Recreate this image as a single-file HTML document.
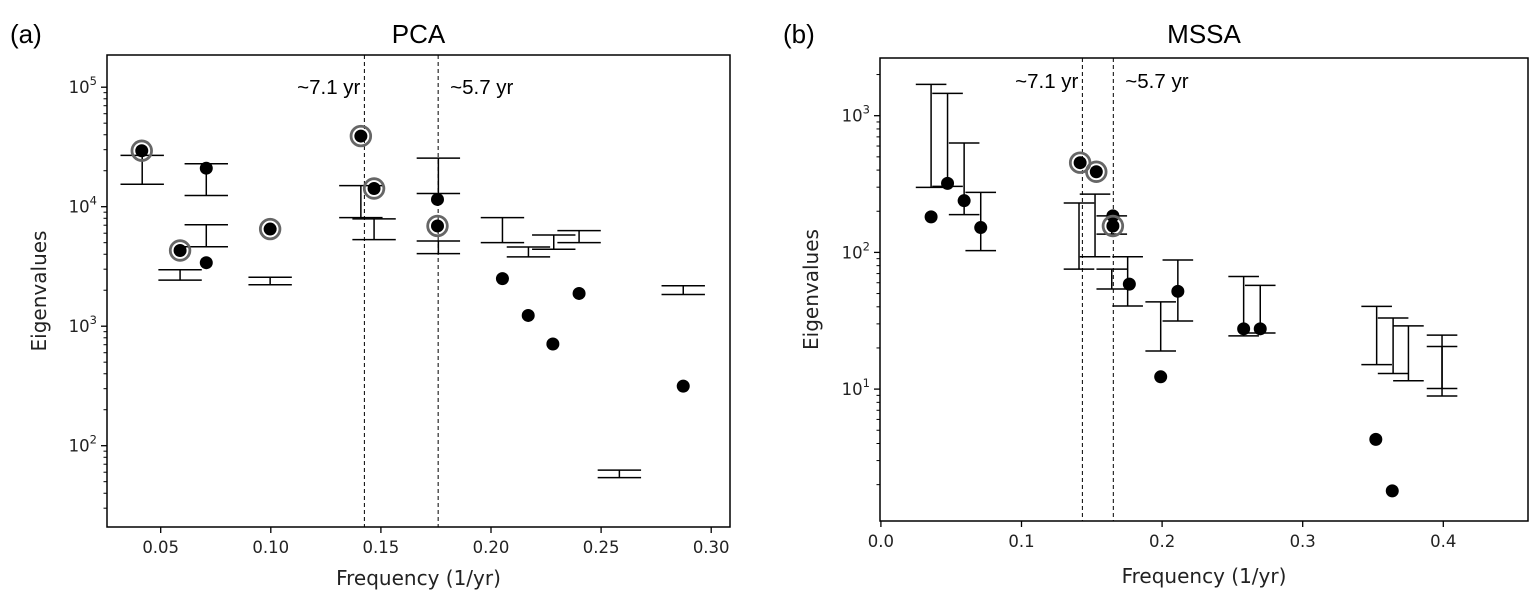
<!DOCTYPE html>
<html><head><meta charset="utf-8"><style>
html,body{margin:0;padding:0;background:#fff;}
svg{display:block;font-family:"DejaVu Sans","Liberation Sans",sans-serif;}
.tl{font-size:16.5px;fill:#222;}
.al{font-size:20px;fill:#222;}
.tt{font-family:"Liberation Sans",sans-serif;font-size:26px;fill:#000;}
.an{font-family:"Liberation Sans",sans-serif;font-size:20.5px;fill:#000;}
</style></head><body>
<svg id="fig" width="1540" height="602" viewBox="0 0 1540 602" xmlns="http://www.w3.org/2000/svg"></svg>
<script>
// Panel (a) PCA data
const pcaPointFreq = [0.0414,0.0707,0.1409,0.1469,0.1757,0.1757,0.0997,0.0588,0.0707,0.2052,0.2400,0.2169,0.2281,0.2873];
const pcaPointVal  = [29400,21000,39000,14200,11500,6900,6500,4300,3400,2500,1880,1230,710,315];
const pcaCircled   = [1,0,1,1,0,1,1,1,0,0,0,0,0,0];
const pcaBarFreq   = [0.0416,0.0707,0.0707,0.0588,0.0997,0.1409,0.1469,0.1761,0.1761,0.2052,0.2170,0.2285,0.2400,0.2583,0.2873];
const pcaBarHigh   = [26900,22900,7070,2970,2570,15000,7900,25500,5170,8100,4600,5800,6300,62.5,2180];
const pcaBarLow    = [15400,12400,4620,2430,2220,8100,5300,12900,4050,5000,3800,4400,5000,54,1840];
const pcaXTicks    = [0.05,0.10,0.15,0.20,0.25,0.30];
const pcaXTickLabels = ["0.05","0.10","0.15","0.20","0.25","0.30"];
const pcaYDecades  = [2,3,4,5];
const pcaPeriodLines = [0.1425,0.1760];
const pcaPeriodLabels = ["~7.1 yr","~5.7 yr"];

// Panel (b) MSSA data
const mssaPointFreq = [0.0357,0.0474,0.0592,0.0710,0.1417,0.1532,0.1650,0.1650,0.1767,0.2112,0.1990,0.2580,0.2698,0.3520,0.3637];
const mssaPointVal  = [182,320,239,152,453,389,185,156,58.6,51.9,12.3,27.6,27.6,4.29,1.80];
const mssaCircled   = [0,0,0,0,1,1,0,1,0,0,0,0,0,0,0];
const mssaBarFreq   = [0.0357,0.0474,0.0592,0.0710,0.1409,0.1523,0.1642,0.1642,0.1755,0.1990,0.2112,0.2580,0.2698,0.3526,0.3643,0.3752,0.3991,0.3991];
const mssaBarHigh   = [1694,1456,631,275,230,267,185,75.5,93,43.5,88,66.7,57.4,40.3,33.1,29,24.8,20.5];
const mssaBarLow    = [299,304,189,103,75.5,93,136,54,40.5,19,31.5,24.5,25.7,15.1,13.0,11.5,8.9,10.1];
const mssaXTicks    = [0.0,0.1,0.2,0.3,0.4];
const mssaXTickLabels = ["0.0","0.1","0.2","0.3","0.4"];
const mssaYDecades  = [1,2,3];
const mssaPeriodLines = [0.1433,0.1653];
const mssaPeriodLabels = ["~7.1 yr","~5.7 yr"];

const NS = "http://www.w3.org/2000/svg";
const svg = document.getElementById('fig');
function mk(tag, attrs, parent, text){
  const e = document.createElementNS(NS, tag);
  for (const k in attrs) e.setAttribute(k, attrs[k]);
  if (text !== undefined) e.textContent = text;
  (parent||svg).appendChild(e);
  return e;
}

function panel(cfg){
  const g = mk('g', {});
  
  
  const X = f => cfg.x0 + (f - cfg.f0) * cfg.kx;
  const Y = v => cfg.y0 - (Math.log10(v) - cfg.l0) * cfg.ky;
  const L = cfg.box[0], R = cfg.box[1], T = cfg.box[2], B = cfg.box[3];
  const yv = y => cfg.l0 + (cfg.y0 - y) / cfg.ky;
  const lmin = Math.floor(yv(B)), lmax = Math.ceil(yv(T));
  for (let d = lmin; d <= lmax; d++){
    for (let m = 1; m <= 9; m++){
      const y = Y(m * Math.pow(10, d));
      if (y < T - 0.5 || y > B + 0.5) continue;
      const t = mk('line', {x1:L, x2:L - (m===1?6:3.5), y1:y, y2:y, stroke:'#000','stroke-width':m===1?1.3:1}, g);
      
      
    }
  }
  cfg.yDec.forEach(d => {
    const y = Y(Math.pow(10, d));
    const t = mk('text', {x:L - 10, y:y + 6, 'text-anchor':'end', class:'tl'}, g);
    
    
    mk('tspan', {}, t, '10');
    mk('tspan', {dy:-8, 'font-size':'11.5px'}, t, String(d));
  });
  cfg.xTicks.forEach((f, i) => {
    const x = X(f);
    const t = mk('line', {x1:x, x2:x, y1:B, y2:B + 6, stroke:'#000','stroke-width':1.3}, g);
    
    
    const l = mk('text', {x:x, y:B + 26, 'text-anchor':'middle', class:'tl'}, g, cfg.xLabels[i]);
    
    
  });
  cfg.lines.forEach((f, i) => {
    const x = X(f);
    const ln = mk('line', {x1:x, x2:x, y1:T, y2:B, stroke:'#000','stroke-width':1,'stroke-dasharray':'4,3'}, g);
    
    
    const tx = mk('text', {x: i===0 ? x - 4 : x + 12, y: cfg.annY, 'text-anchor': i===0 ? 'end' : 'start', class:'an'}, g, cfg.lineLabels[i]);
    
    
  });
  cfg.bf.forEach((f, i) => {
    const x = X(f), y1 = Y(cfg.bh[i]), y2 = Y(cfg.bl[i]), w = cfg.capHalf;
    const eb = mk('g', {stroke:'#000','stroke-width':1.5}, g);
    
    
    mk('line', {x1:x, x2:x, y1:y1, y2:y2}, eb);
    mk('line', {x1:x - w, x2:x + w, y1:y1, y2:y1}, eb);
    mk('line', {x1:x - w, x2:x + w, y1:y2, y2:y2}, eb);
  });
  cfg.pf.forEach((f, i) => {
    const x = X(f), y = Y(cfg.pv[i]);
    if (cfg.pc[i]){
      const r = mk('circle', {cx:x, cy:y, r:9.8, fill:'none', stroke:'#666','stroke-width':2.8}, g);
      
      
    }
    const c = mk('circle', {cx:x, cy:y, r:6.5, fill:'#000'}, g);
    
    
  });
  const bx = mk('rect', {x:L, y:T, width:R - L, height:B - T, fill:'none', stroke:'#000','stroke-width':1.5}, g);
  
  
  const ti = mk('text', {x:(L + R) / 2, y:cfg.titleY, 'text-anchor':'middle', class:'tt'}, g, cfg.title);
  
  
  const xl = mk('text', {x:(L + R) / 2, y:cfg.xlY, 'text-anchor':'middle', class:'al'}, g, 'Frequency (1/yr)');
  
  
  const yl = mk('text', {x:cfg.ylX, y:(T + B) / 2, 'text-anchor':'middle', class:'al', transform:'rotate(-90 ' + cfg.ylX + ' ' + ((T + B) / 2) + ')'}, g, 'Eigenvalues');
  
  
  const pl = mk('text', {x:cfg.tagX, y:cfg.titleY, class:'tt'}, g, cfg.tag);
  
  
}

panel({name:'pca', box:[107,730,55,527], x0:160.7, f0:0.05, kx:2202, y0:206.7, l0:4, ky:119.5,
  yDec:pcaYDecades, xTicks:pcaXTicks, xLabels:pcaXTickLabels, lines:pcaPeriodLines, lineLabels:pcaPeriodLabels,
  bf:pcaBarFreq, bh:pcaBarHigh, bl:pcaBarLow, pf:pcaPointFreq, pv:pcaPointVal, pc:pcaCircled, capHalf:21.7,
  annY:94, title:'PCA', titleY:43, xlY:585, ylX:46, tag:'(a)', tagX:10});
panel({name:'mssa', box:[880,1528,58,521], x0:880.9, f0:0, kx:1406, y0:115.7, l0:3, ky:136.7,
  yDec:mssaYDecades, xTicks:mssaXTicks, xLabels:mssaXTickLabels, lines:mssaPeriodLines, lineLabels:mssaPeriodLabels,
  bf:mssaBarFreq, bh:mssaBarHigh, bl:mssaBarLow, pf:mssaPointFreq, pv:mssaPointVal, pc:mssaCircled, capHalf:15.3,
  annY:88, title:'MSSA', titleY:43, xlY:583, ylX:818, tag:'(b)', tagX:783});
</script>
</body></html>
